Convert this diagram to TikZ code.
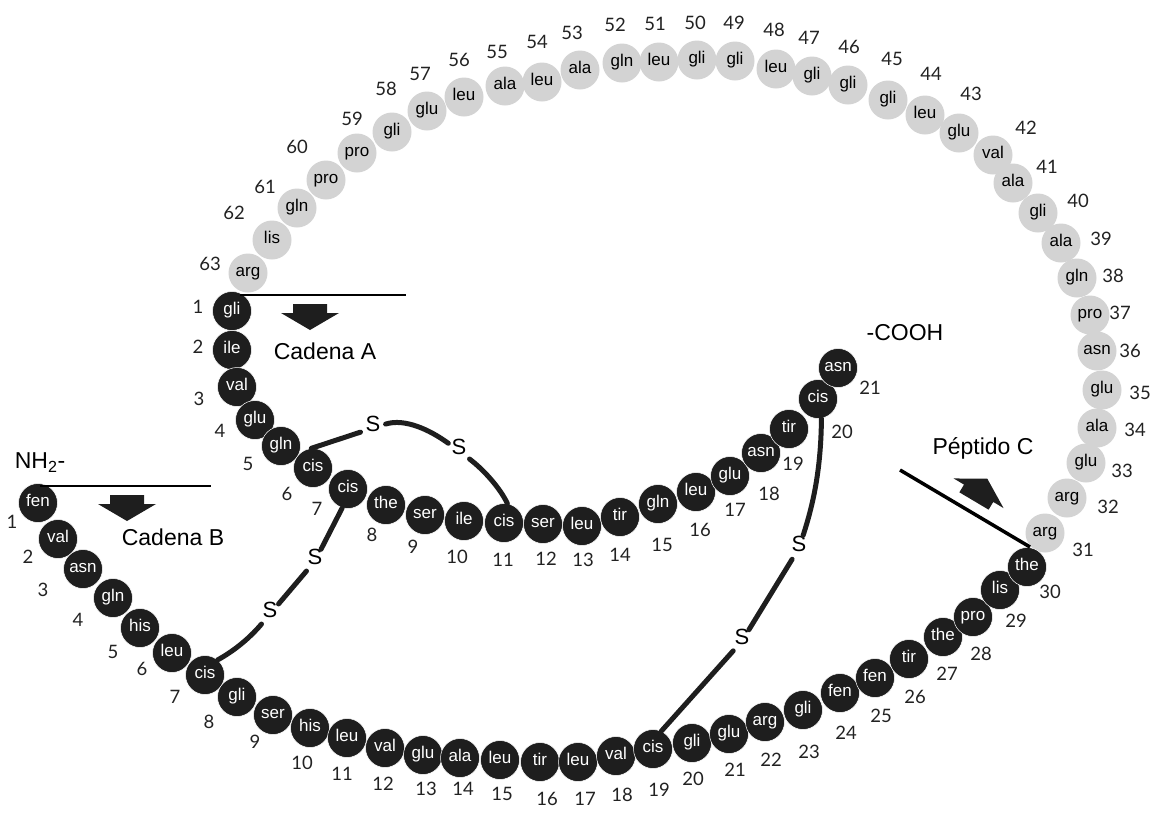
\documentclass[tikz,border=0pt]{standalone}
\usepackage{fontspec}
\setmainfont{Liberation Sans}
\newfontfamily\numfont{Lato}
\definecolor{beadblack}{HTML}{1E1E1E}
\definecolor{beadgray}{HTML}{D3D3D3}
\definecolor{numcol}{HTML}{222222}
\begin{document}
\begin{tikzpicture}[x=1pt,y=-1pt,
  bead/.style={circle,inner sep=0pt,minimum size=39pt,
    font=\fontsize{17}{18}\selectfont,text height=1.6ex,text depth=0.3ex},
  blackbead/.style={bead,fill=beadblack,draw=white,line width=0.5pt,text=white},
  graybead/.style={bead,fill=beadgray,text=black},
  num/.style={font=\numfont\fontsize{18.5}{19}\selectfont,text=numcol,
    inner sep=0pt,text height=0.72em,text depth=0pt},
  lbl/.style={font=\fontsize{23}{24}\selectfont,inner sep=0pt,
    text height=0.72em,text depth=0pt},
  sulfur/.style={circle,inner sep=0pt,minimum size=26pt,
    font=\fontsize{22}{24}\selectfont,text height=0.72em,text depth=0pt},
  bond/.style={line width=5pt,line cap=round,beadblack},
  divider/.style={line width=2pt,black},
  blockarrow/.pic={\fill[beadblack] (-17,0) -- (17,0) -- (17,9) -- (29,9)
    -- (0,26) -- (-29,9) -- (-17,9) -- cycle;}
]
\useasboundingbox (0,0) rectangle (1156,812);

% C-peptide (grey)
\foreach \i/\x/\y/\t in {31/1045/533/arg,32/1067/498/arg,33/1086/463/glu,
  34/1097/428/ala,35/1102/390/glu,36/1097/351/asn,37/1090/315/pro,
  38/1077/278/gln,39/1061/243/ala,40/1038/213/gli,41/1013/183/ala,
  42/993/155/val,43/959/133/glu,44/925/115/leu,45/888/100/gli,
  46/848/85/gli,47/812/76/gli,48/776/69/leu,49/735/61/gli,50/697/60/gli,
  51/659/62/leu,52/622/63/gln,53/580/70/ala,54/542/82/leu,55/505/86/ala,
  56/464/97/leu,57/427/111/glu,58/392/132/gli,59/357/153/pro,
  60/326/180/pro,61/297/208/gln,62/272/240/lis,63/248/273/arg}
  {\node[graybead] (c\i) at (\x,\y) {\t};}

% chain A
\foreach \i/\x/\y/\t in {1/232/311/gli,2/232/350/ile,3/237/387/val,
  4/255/420/glu,5/281/446/gln,6/313/468/cis,7/348/489/cis,8/386/505/the,
  9/425/515/ser,10/464/521/ile,11/504/523/cis,12/543/524/ser,
  13/582/526/leu,14/620/517/tir,15/658/504/gln,16/696/492/leu,
  17/730/476/glu,18/761/453/asn,19/789/429/tir,20/818/399/cis,
  21/838/368/asn}
  {\node[blackbead] (a\i) at (\x,\y) {\t};}

% chain B
\foreach \i/\x/\y/\t in {1/38/503/fen,2/58/539/val,3/83/569/asn,
  4/113/598/gln,5/140/628/his,6/172/653/leu,7/205/675/cis,8/237/697/gli,
  9/273/715/ser,10/310/728/his,11/347/738/leu,12/385/748/val,
  13/423/755/glu,14/460/758/ala,15/500/760/leu,16/540/762/tir,
  17/578/762/leu,18/616/756/val,19/653/749/cis,20/692/743/gli,
  21/729/734/glu,22/765/722/arg,23/803/710/gli,24/840/693/fen,
  25/875/678/fen,26/909/659/tir,27/943/637/the,28/973/617/pro,
  29/1000/590/lis,30/1027/567/the}
  {\node[blackbead] (b\i) at (\x,\y) {\t};}

% residue numbers
\foreach \i/\x/\y in {1/198/310,2/198/350,3/199/402,4/220/434,5/248/467,
  6/287/497,7/317/512,8/372/538,9/413/550,10/457/560,11/503/563,
  12/546/562,13/583/563,14/620/558,15/662/548,16/700/533,17/735/513,
  18/769/497,19/793/467,20/842/435,21/870/391}
  {\node[num] (na\i) at (\x,\y) {\i};}
\foreach \i/\x/\y in {1/12/525,2/28/560,3/43/593,4/78/623,5/113/655,
  6/142/672,7/175/700,8/209/725,9/255/745,10/302/766,11/342/777,
  12/383/787,13/426/792,14/463/792,15/502/797,16/547/802,17/585/802,
  18/622/798,19/659/793,20/693/782,21/735/773,22/771/763,23/809/755,
  24/846/736,25/881/719,26/915/700,27/947/677,28/981/657,29/1016/624,
  30/1050/595}
  {\node[num] (nb\i) at (\x,\y) {\i};}
\foreach \i/\x/\y in {31/1083/553,32/1108/510,33/1122/474,34/1135/433,
  35/1140/396,36/1130/354,37/1120/316,38/1113/279,39/1101/242,
  40/1078/204,41/1047/170,42/1026/131,43/971/97,44/931/77,45/892/62,
  46/849/50,47/809/41,48/774/33,49/734/26,50/695/26,51/655/27,52/615/28,
  53/572/36,54/537/45,55/497/55,56/459/63,57/420/77,58/386/92,
  59/352/122,60/297/150,61/265/190,62/234/216,63/210/267}
  {\node[num] (nc\i) at (\x,\y) {\i};}

% disulfide bridges
\node[sulfur] (s1) at (373,428) {S};
\node[sulfur] (s2) at (459,451) {S};
\node[sulfur] (s3) at (315,561) {S};
\node[sulfur] (s4) at (270,614) {S};
\node[sulfur] (s5) at (799,548) {S};
\node[sulfur] (s6) at (742,641) {S};

\draw[bond] (a6.95) -- (s1);
\draw[bond] (s1) .. controls (405,418) and (430,430) .. (s2);
\draw[bond] (s2) .. controls (484,470) and (500,488) .. (a11.80);
\draw[bond] (a7.-107) -- (s3);
\draw[bond] (s3) -- (s4);
\draw[bond] (s4) .. controls (248,640) and (232,652) .. (b7.50);
\draw[bond] (a20.-80) .. controls (821,470) and (813,505) .. (s5);
\draw[bond] (s5) -- (s6);
\draw[bond] (s6) -- (b19.65);

% chain boundaries
\coordinate (cutA1) at (240,295);
\coordinate (cutA2) at (406,295);
\coordinate (cutB1) at (40,486);
\coordinate (cutB2) at (211,486);
\coordinate (cutC1) at (900,470);
\coordinate (cutC2) at (1030,547);
\draw[divider] (cutA1) -- (cutA2);
\draw[divider] (cutB1) -- (cutB2);
\draw[divider,line width=3.5pt] (cutC1) -- (cutC2);

\pic at (310,304) {blockarrow};
\pic at (127,495) {blockarrow};
\pic[rotate=149.3] at (974,501) {blockarrow};

% labels
\node[lbl] (nh2) at (40,465) {NH\textsubscript{2}-};
\node[lbl] (cadA) at (325,356) {Cadena A};
\node[lbl] (cadB) at (173,542) {Cadena B};
\node[lbl] (pepC) at (983,451) {Péptido C};
\node[lbl] (cooh) at (905,337) {-COOH};
\end{tikzpicture}
\end{document}
